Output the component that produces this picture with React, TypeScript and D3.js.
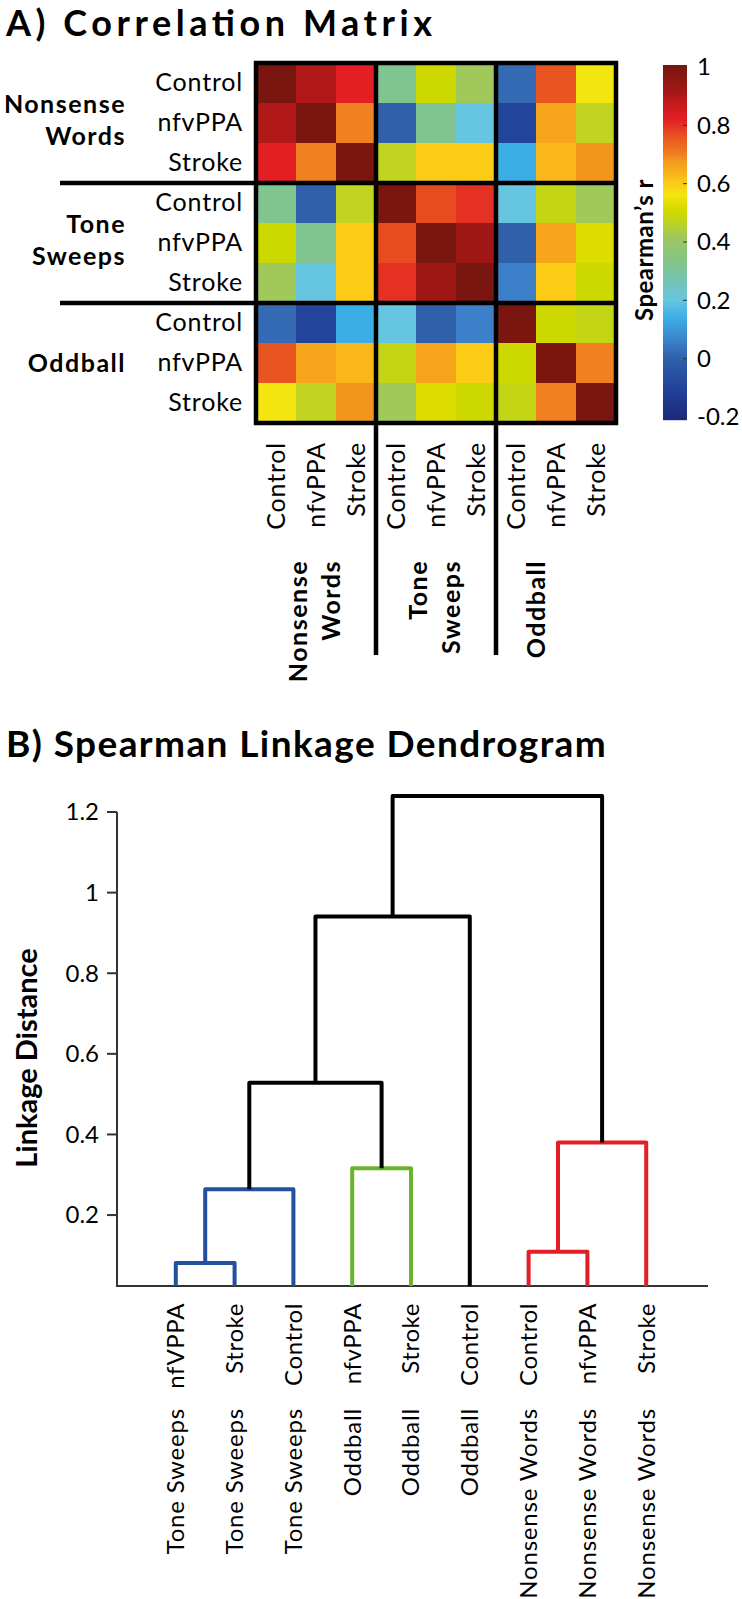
import React from "react";
import * as d3 from "d3";

// ---------- Panel A data ----------
const groups = ["Nonsense Words", "Tone Sweeps", "Oddball"];
const conditions = ["Control", "nfvPPA", "Stroke"];

const rowNWControl = [1.0, 0.9, 0.82, 0.32, 0.5, 0.42, 0.02, 0.76, 0.56];
const rowNWnfvPPA = [0.9, 1.0, 0.7, 0.0, 0.32, 0.2, -0.1, 0.66, 0.47];
const rowNWStroke = [0.82, 0.7, 1.0, 0.47, 0.6, 0.6, 0.14, 0.63, 0.68];
const rowTSControl = [0.32, 0.0, 0.47, 1.0, 0.77, 0.8, 0.2, 0.48, 0.42];
const rowTSnfvPPA = [0.5, 0.32, 0.6, 0.77, 1.0, 0.92, 0.0, 0.66, 0.52];
const rowTSStroke = [0.42, 0.2, 0.6, 0.8, 0.92, 1.0, 0.06, 0.6, 0.5];
const rowOBControl = [0.02, -0.1, 0.14, 0.2, 0.0, 0.06, 1.0, 0.5, 0.48];
const rowOBnfvPPA = [0.76, 0.66, 0.63, 0.48, 0.66, 0.6, 0.5, 1.0, 0.7];
const rowOBStroke = [0.56, 0.47, 0.68, 0.42, 0.52, 0.5, 0.48, 0.7, 1.0];
const corrRows = [
  rowNWControl, rowNWnfvPPA, rowNWStroke,
  rowTSControl, rowTSnfvPPA, rowTSStroke,
  rowOBControl, rowOBnfvPPA, rowOBStroke,
];

const cbTicks = [-0.2, 0, 0.2, 0.4, 0.6, 0.8, 1];
const cmapValues = [-0.2, -0.1, 0.0, 0.06, 0.14, 0.2, 0.32, 0.42, 0.47, 0.5, 0.52, 0.56, 0.6, 0.64, 0.67, 0.7, 0.76, 0.82, 0.88, 0.92, 1.0];
const cmapColors = ["#1d2a7e", "#22449a", "#3060aa", "#3b80c8", "#3caee6", "#66c5e0", "#80c490", "#a0c85a", "#c0d420", "#cdd800", "#dcdc00", "#f2e510", "#fccc16", "#f8b01a", "#f5a01c", "#f08020", "#e85520", "#e31f24", "#c0191b", "#a01815", "#7a1610"];

// ---------- Panel B data ----------
const leafGroups = ["Tone Sweeps", "Tone Sweeps", "Tone Sweeps", "Oddball", "Oddball", "Oddball", "Nonsense Words", "Nonsense Words", "Nonsense Words"];
const leafConds = ["nfVPPA", "Stroke", "Control", "nfvPPA", "Stroke", "Control", "Control", "nfvPPA", "Stroke"];
const linkLeft = [0, 9, 3, 10, 12, 6, 14, 13];
const linkRight = [1, 2, 4, 11, 5, 7, 8, 15];
const linkHeights = [0.081, 0.264, 0.316, 0.528, 0.941, 0.109, 0.38, 1.24];
const linkColors = ["#23509f", "#23509f", "#6ab42d", "#000", "#000", "#e41e26", "#e41e26", "#000"];
const yTicks = [0.2, 0.4, 0.6, 0.8, 1, 1.2];

const FONT = "Lato, 'Open Sans', sans-serif";

export default function App() {
  const W = 742, H = 1599;
  // matrix scales
  const idx = d3.range(9);
  const xM = d3.scaleBand<number>().domain(idx).range([256, 616]);
  const yM = d3.scaleBand<number>().domain(idx).range([63, 423]);
  const color = d3.scaleLinear<string>().domain(cmapValues).range(cmapColors).interpolate(d3.interpolateRgb).clamp(true);
  const yCB = d3.scaleLinear().domain([-0.2, 1]).range([417, 67]);
  const cbTop = 65, cbBot = 420;
  const cbStrips = d3.range(cbTop, cbBot, 1);

  // dendrogram scales
  const xD = d3.scaleLinear().domain([0, 10]).range([117, 705]);
  const yD = d3.scaleLinear().domain([0.024, 1.2]).range([1286, 812]);
  const nodeX: number[] = leafConds.map((_, i) => xD(i + 1));
  const nodeH: number[] = leafConds.map(() => 0.024);
  linkLeft.forEach((l, k) => {
    nodeX.push((nodeX[l] + nodeX[linkRight[k]]) / 2);
    nodeH.push(linkHeights[k]);
  });

  const blockEdges = [0, 3, 6, 9];
  const blockX = (b: number) => xM(b * 3)!;
  const blockY = (b: number) => yM(b * 3)!;
  const LS_BOLD = 1.5;
  const LS_REG = 0.8;

  return (
    <svg width={W} height={H} style={{ position: "absolute", left: 0, top: 0, background: "#fff" }} fontFamily={FONT}>
      <rect width={W} height={H} fill="#fff" />
      <text x={6} y={36} fontSize={36} fontWeight="bold" textLength={426} lengthAdjust="spacing">A) Correlation Matrix</text>

      {/* cells */}
      {corrRows.map((row, r) =>
        row.map((v, c) => (
          <rect key={`c${r}-${c}`} x={xM(c)} y={yM(r)} width={xM.bandwidth() + 0.5} height={yM.bandwidth() + 0.5} fill={color(v)} />
        ))
      )}
      {/* block lines */}
      {blockEdges.map((e) => {
        const x = e < 9 ? xM(e)! : 616;
        const y = e < 9 ? yM(e)! : 423;
        return (
          <g key={`be${e}`}>
            <line x1={x} x2={x} y1={61} y2={e === 3 || e === 6 ? 655 : 425} stroke="#000" strokeWidth={4.5} />
            <line y1={y} y2={y} x1={e === 3 || e === 6 ? 60 : 254} x2={618} stroke="#000" strokeWidth={4.5} />
          </g>
        );
      })}
      {/* row labels */}
      {idx.map((i) => (
        <text key={`rl${i}`} x={243} y={yM(i)! + yM.bandwidth() / 2} dy="0.33em" textAnchor="end" fontSize={25} letterSpacing={LS_REG}>
          {conditions[i % 3]}
        </text>
      ))}
      {groups.map((g, b) => {
        const words = g.split(" ");
        const cy = blockY(b) + 60;
        return (
          <text key={`gl${b}`} textAnchor="end" fontSize={25} fontWeight="bold" letterSpacing={LS_BOLD}>
            {words.length === 2 ? (
              <>
                <tspan x={126} y={cy - 10}>{words[0]}</tspan>
                <tspan x={126} y={cy + 22}>{words[1]}</tspan>
              </>
            ) : (
              <tspan x={126} y={cy + 9}>{words[0]}</tspan>
            )}
          </text>
        );
      })}
      {/* column labels */}
      {idx.map((i) => (
        <text key={`cl${i}`} transform={`translate(${xM(i)! + xM.bandwidth() / 2},442) rotate(-90)`} dy="0.35em" textAnchor="end" fontSize={25} letterSpacing={LS_REG}>
          {conditions[i % 3]}
        </text>
      ))}
      {groups.map((g, b) => {
        const words = g.split(" ");
        const x0 = blockX(b);
        return words.length === 2 ? (
          <g key={`cg${b}`}>
            <text transform={`translate(${x0 + 51},560) rotate(-90)`} textAnchor="end" fontSize={25} fontWeight="bold" letterSpacing={LS_BOLD}>{words[0]}</text>
            <text transform={`translate(${x0 + 84},560) rotate(-90)`} textAnchor="end" fontSize={25} fontWeight="bold" letterSpacing={LS_BOLD}>{words[1]}</text>
          </g>
        ) : (
          <text key={`cg${b}`} transform={`translate(${x0 + 49},560) rotate(-90)`} textAnchor="end" fontSize={25} fontWeight="bold" letterSpacing={LS_BOLD}>{words[0]}</text>
        );
      })}

      {/* colorbar */}
      {cbStrips.map((y) => (
        <rect key={`cb${y}`} x={663} y={y} width={24} height={1.2} fill={color(yCB.invert(y + 0.5))} />
      ))}
      {cbTicks.map((t) => (
        <g key={`cbt${t}`}>
          <line x1={683} x2={687} y1={yCB(t)} y2={yCB(t)} stroke="#333" strokeWidth={1} />
          <text x={697} y={yCB(t)} dy="0.35em" fontSize={24}>{t === 1 ? "1" : String(t)}</text>
        </g>
      ))}
      <text transform={`translate(645,250) rotate(-90)`} textAnchor="middle" dy="0.35em" fontSize={24} fontWeight="bold" letterSpacing={0.5}>Spearman’s r</text>

      {/* Panel B */}
      <text x={6} y={757} fontSize={37} fontWeight="bold" letterSpacing={1.4}>B) Spearman Linkage Dendrogram</text>
      <line x1={117} x2={117} y1={yD(1.2)} y2={1287} stroke="#333" strokeWidth={2} />
      <line x1={116} x2={708} y1={1286} y2={1286} stroke="#333" strokeWidth={2} />
      {yTicks.map((t) => (
        <g key={`yt${t}`}>
          <line x1={107} x2={117} y1={yD(t)} y2={yD(t)} stroke="#333" strokeWidth={2} />
          <text x={99} y={yD(t)} dy="0.35em" textAnchor="end" fontSize={24}>{String(t)}</text>
        </g>
      ))}
      <text transform={`translate(27,1058) rotate(-90)`} textAnchor="middle" dy="0.35em" fontSize={29} fontWeight="bold">Linkage Distance</text>

      {linkLeft.map((l, k) => {
        const r = linkRight[k];
        const h = yD(linkHeights[k]);
        const p = d3.path();
        p.moveTo(nodeX[l], yD(nodeH[l]));
        p.lineTo(nodeX[l], h);
        p.lineTo(nodeX[r], h);
        p.lineTo(nodeX[r], yD(nodeH[r]));
        return <path key={`lk${k}`} d={p.toString()} fill="none" stroke={linkColors[k]} strokeWidth={4} strokeLinejoin="round" />;
      })}

      {leafConds.map((c, i) => (
        <g key={`lf${i}`}>
          <text transform={`translate(${xD(i + 1)},1303) rotate(-90)`} dy="0.35em" textAnchor="end" fontSize={24} letterSpacing={0.6}>{c}</text>
          <text transform={`translate(${xD(i + 1)},1408) rotate(-90)`} dy="0.35em" textAnchor="end" fontSize={24} letterSpacing={0.8}>{leafGroups[i]}</text>
        </g>
      ))}
    </svg>
  );
}
